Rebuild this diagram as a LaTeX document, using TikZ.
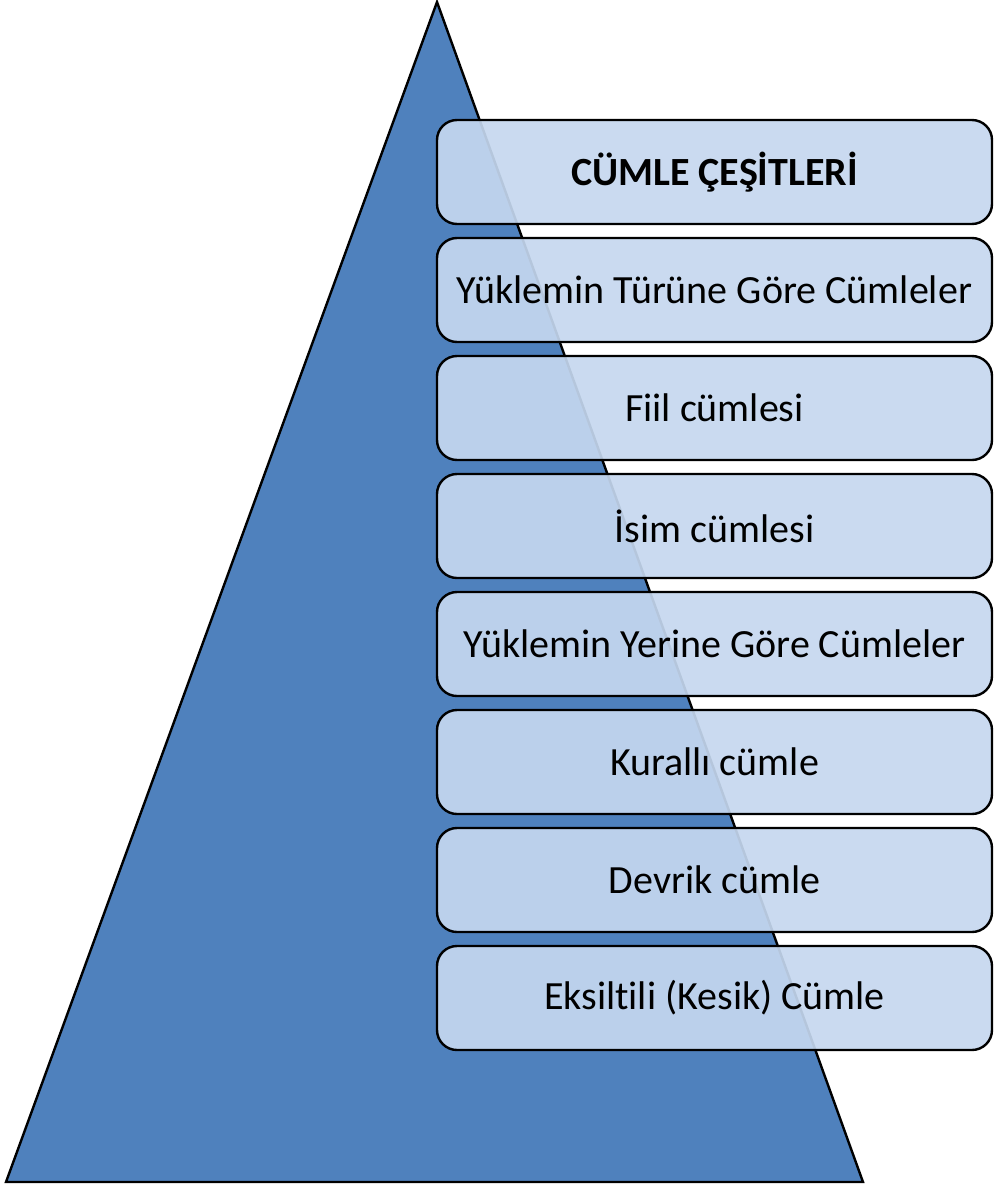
\documentclass[tikz,border=0pt]{standalone}
\usepackage{fontspec}
\setmainfont{Carlito}[Ligatures=CommonOff]
\usetikzlibrary{positioning}
\definecolor{pyrblue}{HTML}{4F81BD}
\definecolor{boxblue}{HTML}{C5D7EF}

\begin{document}
\begin{tikzpicture}[x=1pt,y=-1pt,
    level/.style={draw,rectangle,rounded corners=20pt,line width=2.4pt,
        fill=boxblue,fill opacity=0.92,text opacity=1,outer sep=0pt,
        node distance=14pt,align=center,minimum width=555pt,minimum height=104pt,
        font=\fontsize{40}{48}\selectfont}]
    \useasboundingbox (0,0) rectangle (994,1186);
    % pyramid
    \draw[fill=pyrblue,line width=2.4pt,line join=miter] (437,2) -- (863,1182) -- (6,1182) -- cycle;
    % levels
    \node (top) [level,font=\fontsize{40}{48}\selectfont\bfseries] at (714.5,172) {CÜMLE ÇEŞİTLERİ};
    \node (tur) [level,below=of top] {Yüklemin Türüne Göre Cümleler};
    \node (fiil) [level,below=of tur] {Fiil cümlesi};
    \node (isim) [level,below=of fiil] {İsim cümlesi};
    \node (yer) [level,below=of isim] {Yüklemin Yerine Göre Cümleler};
    \node (kur) [level,below=of yer] {Kurallı cümle};
    \node (dev) [level,below=of kur] {Devrik cümle};
    \node (eks) [level,below=of dev] {Eksiltili (Kesik) Cümle};
\end{tikzpicture}
\end{document}
